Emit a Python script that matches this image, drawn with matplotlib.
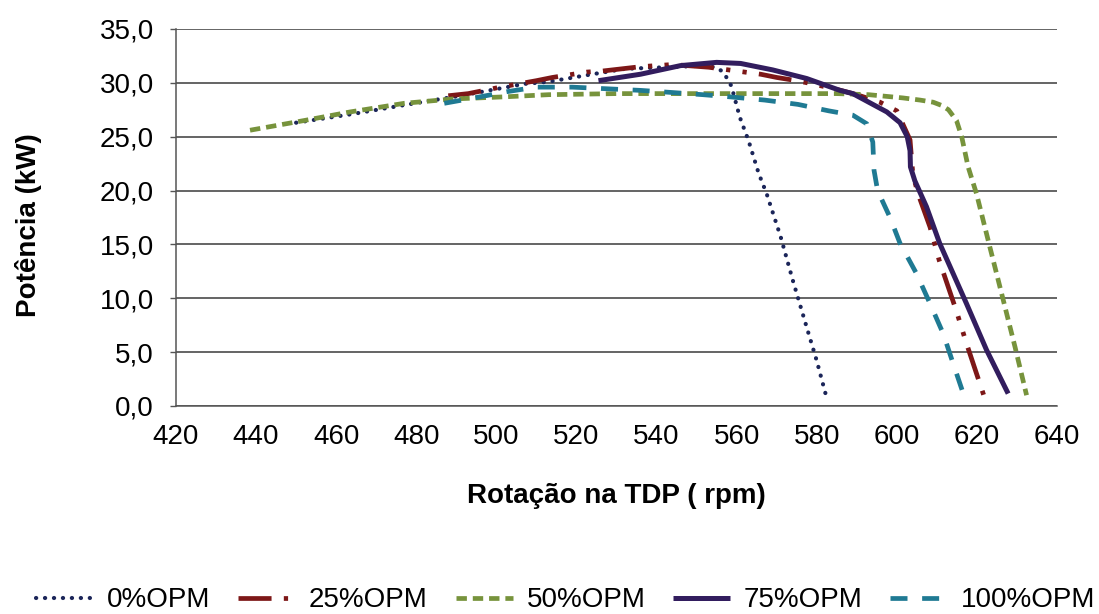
import matplotlib
matplotlib.use("Agg")
import matplotlib.pyplot as plt
from matplotlib.ticker import FuncFormatter

plt.rcParams["font.family"] = ["Liberation Sans", "DejaVu Sans"]

# PTO power curves (rpm, kW)
rpm_0 = [450, 464, 478, 491, 507, 513, 524, 532, 546, 552, 555, 556.7, 558.7,
         560.8, 563, 565.5, 567.5, 571, 574, 577.5, 580, 582.3]
kw_0 = [26.3, 27.1, 28.0, 28.8, 29.9, 30.1, 30.8, 31.3, 31.5, 31.6, 31.4, 31.0, 29.7,
        26.8, 24.6, 21.6, 19.7, 15.7, 11.7, 7.3, 4.2, 1.0]

rpm_25 = [488, 493, 501, 505.5, 510, 514, 522.6, 526.6, 536, 544, 553, 558, 566,
          570, 575, 579, 586, 590, 595.8, 600, 603.3, 604, 605.3, 608.3, 610.6,
          614.8, 617.4, 621.7]
kw_25 = [28.8, 29.0, 29.6, 29.9, 30.2, 30.5, 31.0, 31.1, 31.5, 31.7, 31.45, 31.2, 30.8,
         30.5, 30.2, 29.9, 29.3, 28.9, 28.2, 27.4, 24.7, 21.5, 19.7, 16.6, 13.5,
         8.9, 5.8, 1.0]

rpm_50 = [438.5, 452, 463.5, 477, 489, 502, 513, 530, 550, 570, 585, 593, 601.5,
          605.8, 609.1, 611.2, 612.9, 614.9, 616.2, 617.8, 619.9, 623.2, 626.6, 629.5,
          632.4]
kw_50 = [25.6, 26.5, 27.3, 28.1, 28.5, 28.7, 28.9, 29.0, 29.0, 29.0, 29.0, 28.9, 28.6,
         28.4, 28.2, 27.9, 27.5, 26.5, 25.0, 22.2, 19.7, 14.8, 9.8, 5.5, 1.0]

rpm_75 = [525.5, 536, 546, 555, 561, 569, 577.5, 585.8, 589, 597.5, 600.8, 602.6,
          603.3, 603.4, 604.5, 607.4, 610.7, 617.4, 622.4, 627.8]
kw_75 = [30.2, 30.8, 31.6, 31.9, 31.8, 31.2, 30.4, 29.3, 29.0, 27.3, 26.3, 25.0,
         23.7, 22.2, 20.9, 18.5, 15.1, 9.5, 5.2, 1.15]

rpm_100 = [487, 490, 494.5, 503, 510, 519, 527.6, 536, 544, 551.6, 558.3, 567, 575.3,
           583, 589, 592.5, 594, 594.3, 595.2, 598.3, 600.8, 604.9, 608.3, 611.6,
           614.1, 616.6]
kw_100 = [28.1, 28.3, 28.6, 29.2, 29.6, 29.6, 29.45, 29.3, 29.1, 28.9, 28.7, 28.4, 28.0,
          27.4, 27.0, 26.2, 24.5, 21.9, 20.0, 17.5, 15.1, 12.3, 9.5, 6.7, 3.9, 1.15]

series = [
    ("0%OPM", rpm_0, kw_0, "#1b2559", dict(lw=3.0, dashes=(0.05, 2.1), dash_capstyle="round")),
    ("25%OPM", rpm_25, kw_25, "#7d1717", dict(lw=3.4, dashes=(7, 2.6, 0.9, 2.6, 0.9, 2.6))),
    ("50%OPM", rpm_50, kw_50, "#77933c", dict(lw=3.4, dashes=(2.2, 1.25))),
    ("75%OPM", rpm_75, kw_75, "#321d5e", dict(lw=3.6)),
    ("100%OPM", rpm_100, kw_100, "#1f7a93", dict(lw=3.4, dashes=(3.6, 3.1))),
]

fig = plt.figure(figsize=(10.99, 6.14), dpi=100)
ax = fig.add_axes([0.1601, 0.3388, 0.8017, 0.6140])

for label, x, y, color, style in series:
    ax.plot(x, y, color=color, label=label, solid_capstyle="butt", **style)

ax.set_xlim(420, 640)
ax.set_ylim(0, 35)
ax.set_xticks(range(420, 641, 20))
ax.set_yticks(range(0, 36, 5))
ax.yaxis.set_major_formatter(FuncFormatter(lambda v, _: f"{v:.1f}".replace(".", ",")))
ax.grid(axis="y", color="#3a3a3a", lw=1.1)
ax.set_axisbelow(True)

for side in ("top", "right"):
    ax.spines[side].set_visible(False)
for side in ("left", "bottom"):
    ax.spines[side].set_color("#555555")
    ax.spines[side].set_linewidth(1.1)

ax.tick_params(axis="y", length=4, width=1, color="#555555", pad=12, labelsize=20)
ax.tick_params(axis="x", length=0, pad=13, labelsize=20)

ax.set_xlabel("Rotação na TDP ( rpm)", fontsize=20, fontweight="bold")
ax.xaxis.set_label_coords(0.5, -0.205)
ax.set_ylabel("Potência (kW)", fontsize=20, fontweight="bold")
ax.yaxis.set_label_coords(-0.152, 0.48)

fig.legend(loc="center", bbox_to_anchor=(0.515, 0.022), ncol=5, frameon=False,
           fontsize=20, handlelength=2.05, handletextpad=0.5, columnspacing=1.0)

fig.savefig("out.png", dpi=100)
plt.close(fig)
